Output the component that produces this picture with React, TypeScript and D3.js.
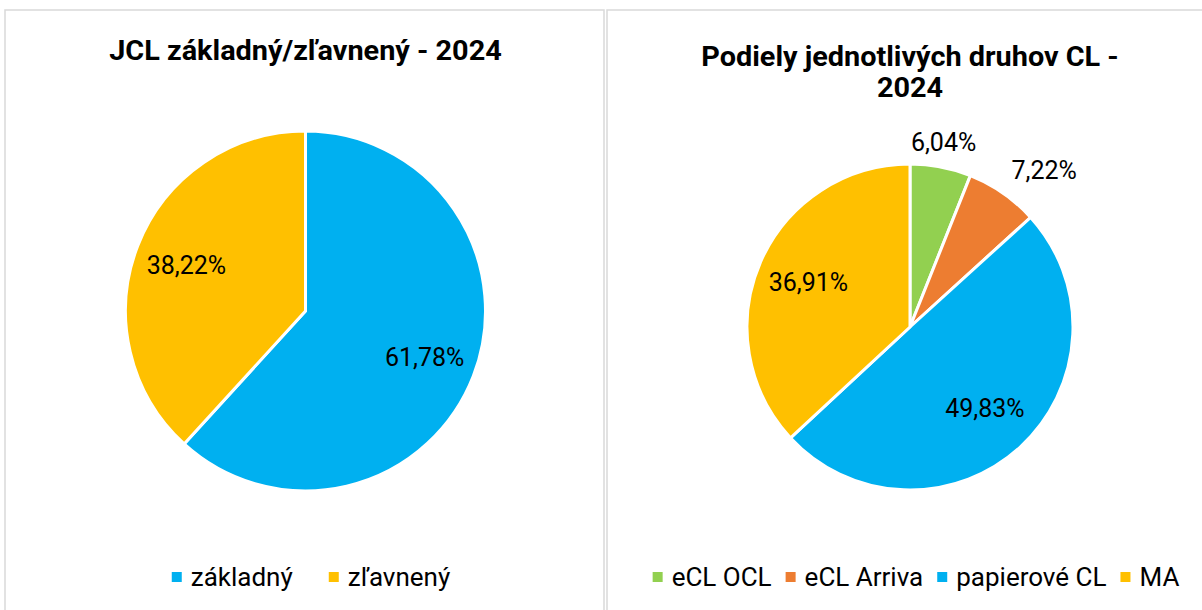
import React from "react";
import * as d3 from "d3";

const chart1Title = ["JCL základný/zľavnený - 2024"];
const chart1Categories = ["základný", "zľavnený"];
const chart1Values = [61.78, 38.22];
const chart1Colors = ["#00B0F0", "#FFC000"];

const chart2Title = ["Podiely jednotlivých druhov CL -", "2024"];
const chart2Categories = ["eCL OCL", "eCL Arriva", "papierové CL", "MA"];
const chart2Values = [6.04, 7.22, 49.83, 36.91];
const chart2Colors = ["#92D050", "#ED7D31", "#00B0F0", "#FFC000"];

const FONT = "Roboto, 'Noto Sans', sans-serif";
const LABEL_SIZE = 25;
const LEGEND_SIZE = 26;
const TITLE_SIZE = 28;

let ctx: CanvasRenderingContext2D | null = null;
function measure(text: string, size: number, weight = "normal") {
  if (!ctx) ctx = document.createElement("canvas").getContext("2d");
  if (!ctx) return text.length * size * 0.55;
  ctx.font = `${weight} ${size}px Roboto`;
  return ctx.measureText(text).width;
}

const fmt = (v: number) => v.toFixed(2).replace(".", ",") + "%";
const clamp01 = (x: number) => Math.max(0, Math.min(1, x));

type PieProps = {
  box: [number, number, number, number];
  title: string[];
  titleY: number;
  titleLine: number;
  categories: string[];
  values: number[];
  colors: string[];
  cx: number;
  cy: number;
  r: number;
  labelRatio: number;
  legendX: number;
  legendY: number;
  legendGap: number;
};

function PieChart(p: PieProps) {
  const data = p.values.map((v, i) => ({ v, name: p.categories[i], color: p.colors[i] }));
  const pie = d3.pie<any>().sort(null).value((d: any) => d.v).startAngle(0).endAngle(2 * Math.PI);
  const arcs = pie(data);
  const arc = d3.arc<any>().innerRadius(0).outerRadius(p.r);

  const sq = 10;
  const items = p.categories.map((c) => ({ c, w: sq + 9 + measure(c, LEGEND_SIZE) }));
  const total = items.reduce((s, it) => s + it.w, 0) + p.legendGap * (items.length - 1);
  let lx = p.legendX - total / 2;
  const legendItems = items.map((it, i) => {
    const x = lx;
    lx += it.w + p.legendGap;
    return { ...it, x, color: p.colors[i] };
  });

  return (
    <g>
      <rect x={p.box[0]} y={p.box[1]} width={p.box[2]} height={p.box[3]} fill="#fff" stroke="#d9d9d9" strokeWidth={1.5} />
      {p.title.map((t, i) => {
        const natural = measure(t, TITLE_SIZE, "bold");
        return (
          <text
            key={i}
            x={p.cx}
            y={p.titleY + i * p.titleLine}
            textAnchor="middle"
            fontFamily={FONT}
            fontWeight="bold"
            fontSize={TITLE_SIZE}
            fill="#000"
            textLength={natural * 1.03}
            lengthAdjust="spacingAndGlyphs"
          >
            {t}
          </text>
        );
      })}
      <g transform={`translate(${p.cx},${p.cy})`}>
        {arcs.map((a, i) => (
          <path key={i} d={arc(a) as string} fill={a.data.color} stroke="#fff" strokeWidth={3} strokeLinejoin="round" />
        ))}
        {arcs.map((a, i) => {
          const mid = (a.startAngle + a.endAngle) / 2;
          const frac = (a.endAngle - a.startAngle) / (2 * Math.PI);
          const label = fmt(a.data.v);
          const w = measure(label, LABEL_SIZE);
          const h = 20;
          let x: number, y: number;
          const s = Math.sin(mid);
          const c = Math.cos(mid);
          if (frac < 0.1) {
            const D = p.r + 15;
            const fromVert = (Math.asin(Math.abs(s)) * 180) / Math.PI;
            const fromHorz = 90 - fromVert;
            const hx = Math.sign(s) * (w / 2) * clamp01((fromVert - 15) / 15);
            const vy = -Math.sign(c) * (h / 2) * clamp01((fromHorz - 15) / 15);
            x = s * D + hx;
            y = -c * D + vy;
          } else {
            const rr = p.r * p.labelRatio;
            x = s * rr;
            y = -c * rr;
          }
          return (
            <text key={"l" + i} x={x} y={y} dy="0.35em" textAnchor="middle" fontFamily={FONT} fontSize={LABEL_SIZE} fill="#000">
              {label}
            </text>
          );
        })}
      </g>
      {legendItems.map((it, i) => (
        <g key={i}>
          <rect x={it.x} y={p.legendY - sq / 2} width={sq} height={sq} fill={it.color} />
          <text x={it.x + sq + 9} y={p.legendY} dy="0.35em" fontFamily={FONT} fontSize={LEGEND_SIZE} fill="#000">
            {it.c}
          </text>
        </g>
      ))}
    </g>
  );
}

export default function App() {
  return (
    <svg width={1202} height={610} style={{ position: "absolute", left: 0, top: 0, background: "#fff" }}>
      <rect x={0} y={0} width={1202} height={610} fill="#fff" />
      <PieChart
        box={[5, 10, 599, 620]}
        title={chart1Title}
        titleY={60}
        titleLine={30}
        categories={chart1Categories}
        values={chart1Values}
        colors={chart1Colors}
        cx={305.5}
        cy={311}
        r={180}
        labelRatio={0.71}
        legendX={311}
        legendY={577}
        legendGap={36}
      />
      <PieChart
        box={[607, 10, 620, 620]}
        title={chart2Title}
        titleY={66}
        titleLine={31}
        categories={chart2Categories}
        values={chart2Values}
        colors={chart2Colors}
        cx={910}
        cy={327}
        r={163}
        labelRatio={0.68}
        legendX={916}
        legendY={577}
        legendGap={14}
      />
    </svg>
  );
}
